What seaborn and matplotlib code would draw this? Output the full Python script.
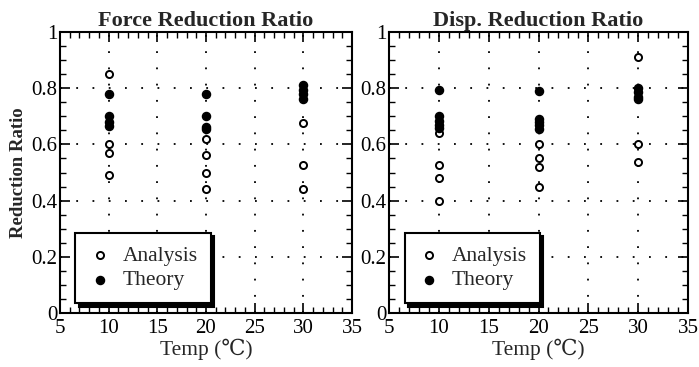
import numpy as np
import pandas as pd
import matplotlib
matplotlib.use("Agg")
import matplotlib.pyplot as plt
import seaborn as sns
from matplotlib.ticker import MultipleLocator, FixedLocator, FixedFormatter

sns.set_theme(style="ticks")
plt.rcParams['font.family'] = ['Liberation Serif', 'DejaVu Serif']

# ---- data ----
force_analysis_temp = [10, 10, 10, 10, 20, 20, 20, 20, 30, 30, 30]
force_analysis_val = [0.85, 0.60, 0.57, 0.49, 0.62, 0.563, 0.50, 0.44, 0.677, 0.525, 0.44]
force_theory_temp = [10, 10, 10, 10, 20, 20, 20, 20, 30, 30, 30, 30]
force_theory_val = [0.78, 0.70, 0.68, 0.665, 0.78, 0.70, 0.662, 0.654, 0.81, 0.795, 0.78, 0.76]

disp_analysis_temp = [10, 10, 10, 10, 20, 20, 20, 20, 30, 30, 30]
disp_analysis_val = [0.64, 0.527, 0.479, 0.40, 0.60, 0.552, 0.52, 0.449, 0.91, 0.60, 0.537]
disp_theory_temp = [10, 10, 10, 10, 10, 20, 20, 20, 20, 20, 30, 30, 30, 30]
disp_theory_val = [0.794, 0.70, 0.685, 0.67, 0.66, 0.79, 0.69, 0.68, 0.67, 0.655, 0.80, 0.785, 0.77, 0.76]

titles = ["Force Reduction Ratio", "Disp. Reduction Ratio"]
x_ticks = [5, 10, 15, 20, 25, 30, 35]
y_ticks = [0, 0.2, 0.4, 0.6, 0.8, 1.0]
y_tick_labels = ["0", "0.2", "0.4", "0.6", "0.8", "1"]

fig = plt.figure(figsize=(6.99, 3.67), dpi=100)
W, H = 699, 367
ax1 = fig.add_axes([60 / W, 1 - 313 / H, (352 - 60) / W, (313 - 32) / H])
ax2 = fig.add_axes([389 / W, 1 - 313 / H, (688 - 389) / W, (313 - 32) / H])

datasets = [
    (force_analysis_temp, force_analysis_val, force_theory_temp, force_theory_val),
    (disp_analysis_temp, disp_analysis_val, disp_theory_temp, disp_theory_val),
]

for ax, title, (at, av, tt, tv) in zip([ax1, ax2], titles, datasets):
    da = pd.DataFrame({"Temp": at, "Ratio": av})
    dt = pd.DataFrame({"Temp": tt, "Ratio": tv})
    sns.scatterplot(data=da, x="Temp", y="Ratio", ax=ax, marker="o", s=26,
                    facecolor="white", edgecolor="black", linewidth=1.4,
                    label="Analysis", zorder=3)
    sns.scatterplot(data=dt, x="Temp", y="Ratio", ax=ax, marker="o", s=34,
                    facecolor="black", edgecolor="black", linewidth=1.0,
                    label="Theory", zorder=3)
    ax.set_xlim(5, 35)
    ax.set_ylim(0, 1)
    ax.xaxis.set_major_locator(FixedLocator(x_ticks))
    ax.yaxis.set_major_locator(FixedLocator(y_ticks))
    ax.yaxis.set_major_formatter(FixedFormatter(y_tick_labels))
    ax.xaxis.set_minor_locator(MultipleLocator(1))
    ax.yaxis.set_minor_locator(MultipleLocator(0.05))
    ax.tick_params(which="both", direction="in", top=True, right=True,
                   labelsize=15, colors="black")
    ax.tick_params(axis="y", pad=2)
    ax.tick_params(axis="x", pad=4)
    ax.tick_params(which="major", length=7, width=1.2)
    ax.tick_params(which="minor", length=4, width=1.0)
    ax.grid(True, which="major", linestyle=(0, (1, 8)), color="black", linewidth=1.3)
    for sp in ax.spines.values():
        sp.set_linewidth(1.5)
        sp.set_color("black")
    ax.set_title(title, fontsize=16, fontweight="bold", pad=4)
    ax.set_xlabel("Temp (℃)", fontsize=15.5, labelpad=1)
    leg = ax.legend(loc="lower left", bbox_to_anchor=(0.052, 0.035), frameon=True,
                    fancybox=False, edgecolor="black", fontsize=15.5,
                    handletextpad=0.5, borderpad=0.6, labelspacing=0.2,
                    handlelength=1.1, borderaxespad=0,
                    shadow={"color": "black", "alpha": 1.0, "ox": 2.5, "oy": -2.5})
    leg.get_frame().set_linewidth(1.5)
    leg.get_frame().set_facecolor("white")

ax1.set_ylabel("Reduction Ratio", fontsize=13.5, fontweight="bold", labelpad=3)
ax2.set_ylabel("")

fig.savefig("out.png", dpi=100)
